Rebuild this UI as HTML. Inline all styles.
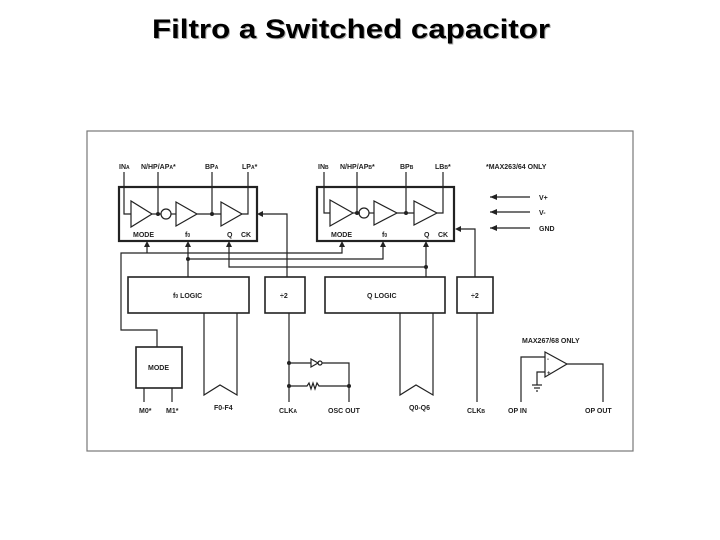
<!DOCTYPE html>
<html><head><meta charset="utf-8"><style>
html,body{margin:0;padding:0;background:#fff;width:720px;height:540px;overflow:hidden}
text{font-family:"Liberation Sans",Arial,sans-serif}
.s{font-size:7px;font-weight:bold;fill:#222}
</style></head><body>
<svg width="720" height="540" viewBox="0 0 720 540" xmlns="http://www.w3.org/2000/svg">
<text x="153" y="39" font-size="27" font-weight="bold" fill="#aaa" textLength="398" lengthAdjust="spacingAndGlyphs">Filtro a Switched capacitor</text>
<text x="152" y="38" font-size="27" font-weight="bold" fill="#000" textLength="398" lengthAdjust="spacingAndGlyphs">Filtro a Switched capacitor</text>
<g stroke="#222" fill="none" stroke-width="1.2">
<rect x="87" y="131" width="546" height="320" stroke="#777"/>
<!-- Block A -->
<rect x="119" y="187" width="138" height="54" stroke-width="2.2"/>
<polyline points="124,172 124,214 131,214"/>
<polygon points="131,201 131,227 152,214"/>
<line x1="152" y1="214" x2="161" y2="214"/>
<line x1="158" y1="172" x2="158" y2="214"/>
<circle cx="166" cy="214" r="5"/>
<line x1="171" y1="214" x2="176" y2="214"/>
<polygon points="176,202 176,226 197,214"/>
<line x1="197" y1="214" x2="221" y2="214"/>
<line x1="212" y1="172" x2="212" y2="214"/>
<polygon points="221,202 221,226 242,214"/>
<polyline points="242,214 248,214 248,172"/>
<!-- Block B -->
<rect x="317" y="187" width="137" height="54" stroke-width="2.2"/>
<polyline points="324,172 324,213 330,213"/>
<polygon points="330,200 330,226 353,213"/>
<line x1="353" y1="213" x2="360" y2="213"/>
<line x1="357" y1="172" x2="357" y2="213"/>
<circle cx="364" cy="213" r="5"/>
<line x1="369" y1="213" x2="374" y2="213"/>
<polygon points="374,201 374,225 397,213"/>
<line x1="397" y1="213" x2="414" y2="213"/>
<line x1="406" y1="172" x2="406" y2="213"/>
<polygon points="414,201 414,225 437,213"/>
<polyline points="437,213 443,213 443,172"/>
<!-- power arrows -->
<line x1="490" y1="197" x2="530" y2="197"/>
<line x1="490" y1="212" x2="530" y2="212"/>
<line x1="490" y1="228" x2="530" y2="228"/>
<!-- logic boxes -->
<rect x="128" y="277" width="121" height="36" stroke-width="1.6"/>
<rect x="265" y="277" width="40" height="36" stroke-width="1.6"/>
<rect x="325" y="277" width="120" height="36" stroke-width="1.6"/>
<rect x="457" y="277" width="36" height="36" stroke-width="1.6"/>
<rect x="136" y="347" width="46" height="41" stroke-width="1.6"/>
<!-- connections -->
<polyline points="157,347 157,330 121,330 121,253 342,253 342,244"/>
<line x1="147" y1="253" x2="147" y2="244"/>
<polyline points="188,277 188,244"/>
<polyline points="188,259 383,259 383,244"/>
<polyline points="229,244 229,267 426,267"/>
<line x1="426" y1="244" x2="426" y2="277"/>
<polyline points="287,277 287,265 287,214 263,214"/>
<polyline points="475,277 475,229 461,229"/>
<!-- buses -->
<polyline points="204,313 204,395 220,385 237,395 237,313"/>
<polyline points="400,313 400,395 416,385 433,395 433,313"/>
<!-- clk -->
<line x1="289" y1="313" x2="289" y2="402"/>
<polyline points="289,363 311,363"/>
<polygon points="311,359 311,367 318,363"/>
<circle cx="320" cy="363" r="2"/>
<polyline points="322,363 349,363 349,402"/>
<polyline points="289,386 307,386 309,383 311,389 313,383 315,389 317,383 319,386 349,386"/>
<line x1="477" y1="313" x2="477" y2="402"/>
<!-- mode pins -->
<line x1="144" y1="388" x2="144" y2="402"/>
<line x1="172" y1="388" x2="172" y2="402"/>
<!-- opamp -->
<polygon points="545,352 545,377 567,364"/>
<polyline points="545,357 521,357 521,402"/>
<polyline points="545,372 537,372 537,385"/>
<line x1="532" y1="385" x2="542" y2="385"/><line x1="534" y1="388" x2="540" y2="388"/><line x1="536" y1="391" x2="538" y2="391"/>
<polyline points="567,364 603,364 603,402"/>
</g>
<g fill="#222">
<circle cx="158" cy="214" r="2"/><circle cx="212" cy="214" r="2"/>
<circle cx="357" cy="213" r="2"/><circle cx="406" cy="213" r="2"/>
<circle cx="188" cy="259" r="2"/><circle cx="426" cy="267" r="2"/>
<circle cx="289" cy="363" r="2"/><circle cx="289" cy="386" r="2"/><circle cx="349" cy="386" r="2"/>
<polygon points="147,241 144,247 150,247"/>
<polygon points="188,241 185,247 191,247"/>
<polygon points="229,241 226,247 232,247"/>
<polygon points="342,241 339,247 345,247"/>
<polygon points="383,241 380,247 386,247"/>
<polygon points="426,241 423,247 429,247"/>
<polygon points="257,214 263,211 263,217"/>
<polygon points="455,229 461,226 461,232"/>
<polygon points="490,197 497,194 497,200"/>
<polygon points="490,212 497,209 497,215"/>
<polygon points="490,228 497,225 497,231"/>
</g>
<g class="s">
<text x="119" y="169" >IN<tspan font-size="5">A</tspan></text>
<text x="141" y="169">N/HP/AP<tspan font-size="5">A</tspan>*</text>
<text x="205" y="169">BP<tspan font-size="5">A</tspan></text>
<text x="242" y="169">LP<tspan font-size="5">A</tspan>*</text>
<text x="133" y="237">MODE</text><text x="185" y="237">f<tspan font-size="5">0</tspan></text>
<text x="227" y="237">Q</text><text x="241" y="237">CK</text>
<text x="318" y="169">IN<tspan font-size="5">B</tspan></text>
<text x="340" y="169">N/HP/AP<tspan font-size="5">B</tspan>*</text>
<text x="400" y="169">BP<tspan font-size="5">B</tspan></text>
<text x="435" y="169">LB<tspan font-size="5">B</tspan>*</text>
<text x="331" y="237">MODE</text><text x="382" y="237">f<tspan font-size="5">0</tspan></text>
<text x="424" y="237">Q</text><text x="438" y="237">CK</text>
<text x="486" y="169">*MAX263/64 ONLY</text>
<text x="539" y="200">V+</text><text x="539" y="215">V-</text><text x="539" y="231">GND</text>
<text x="173" y="298">f<tspan font-size="5">0</tspan> LOGIC</text>
<text x="280" y="298">÷2</text>
<text x="367" y="298">Q LOGIC</text>
<text x="471" y="298">÷2</text>
<text x="148" y="370">MODE</text>
<text x="139" y="413">M0*</text><text x="166" y="413">M1*</text>
<text x="214" y="410">F0-F4</text>
<text x="409" y="410">Q0-Q6</text>
<text x="279" y="413">CLK<tspan font-size="5">A</tspan></text>
<text x="328" y="413">OSC OUT</text>
<text x="467" y="413">CLK<tspan font-size="5">B</tspan></text>
<text x="508" y="413">OP IN</text>
<text x="585" y="413">OP OUT</text>
<text x="522" y="343">MAX267/68 ONLY</text>
<text x="547" y="361" font-size="6">-</text><text x="547" y="375" font-size="6">+</text>
</g>
</svg>
</body></html>
